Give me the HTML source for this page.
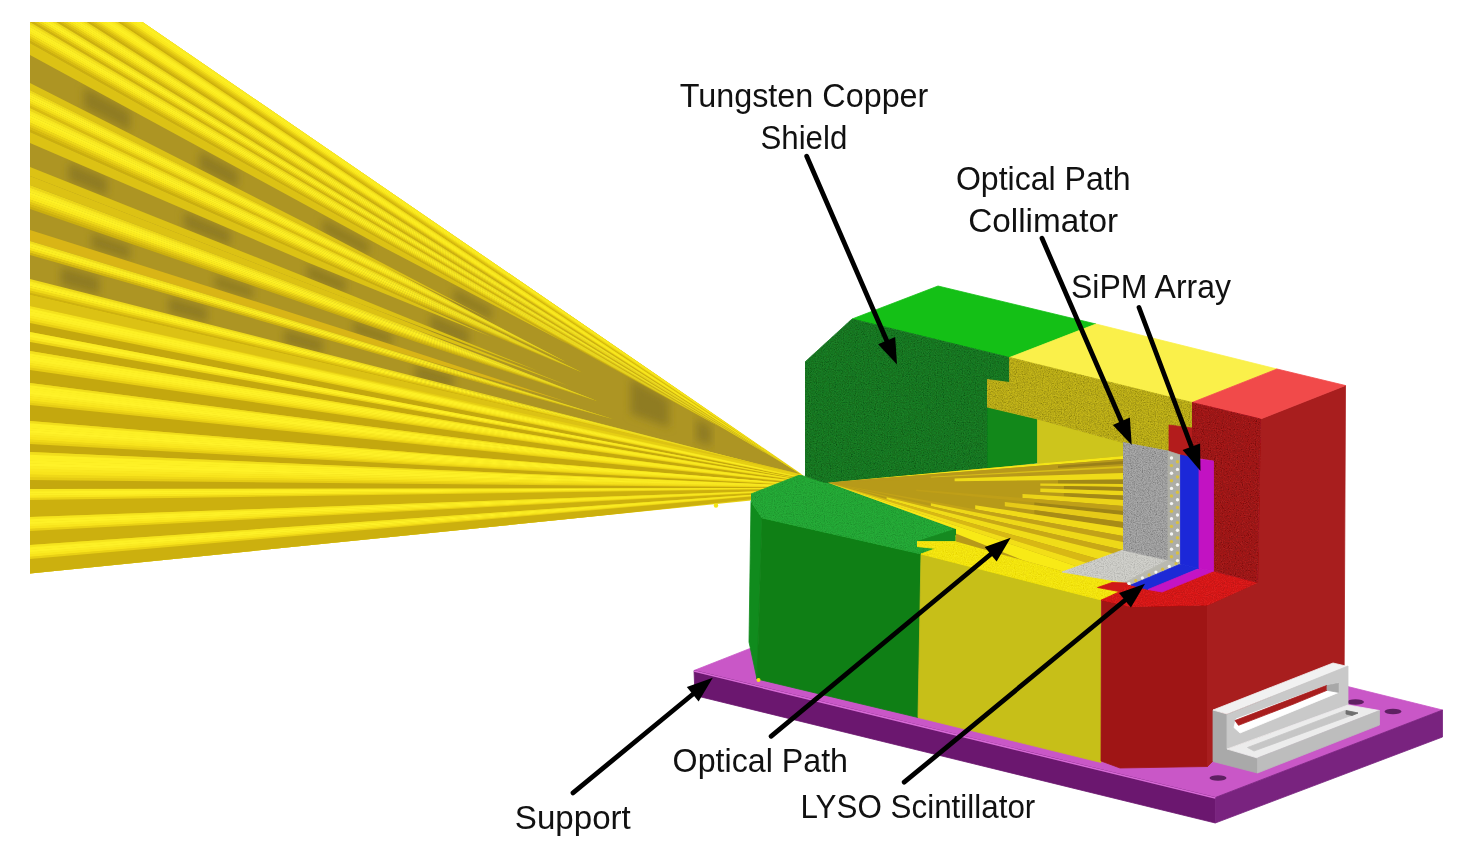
<!DOCTYPE html>
<html><head><meta charset="utf-8"><title>Detector diagram</title>
<style>
html,body{margin:0;padding:0;background:#fff;}
body{width:1464px;height:858px;overflow:hidden;}
svg{display:block;filter:blur(0.55px);}
text{font-family:"Liberation Sans",sans-serif;fill:#111;}
</style></head><body>
<svg width="1464" height="858" viewBox="0 0 1464 858">
<defs>
<clipPath id="beamclip"><polygon points="30,22 142.5,22 800,473 806,478 806,505 751,500.5 30,573.6"/></clipPath>
<clipPath id="ibclip"><polygon points="827.5,482.5 1123,456 1123,550 1065,572 956,541.5 956,529"/></clipPath>
<filter id="blur3" x="-20%" y="-20%" width="140%" height="140%"><feGaussianBlur stdDeviation="4"/></filter>
<filter id="grain" x="0" y="0" width="100%" height="100%">
<feTurbulence type="fractalNoise" baseFrequency="0.85" numOctaves="2" seed="7" result="n"/>
<feColorMatrix in="n" type="matrix" values="0 0 0 0 0  0 0 0 0 0  0 0 0 0 0  0.75 0.75 0 0 -0.6" result="a"/>
<feComposite in="a" in2="SourceGraphic" operator="in" result="g"/>
<feMerge><feMergeNode in="SourceGraphic"/><feMergeNode in="g"/></feMerge>
</filter>
<filter id="grainL" x="0" y="0" width="100%" height="100%">
<feTurbulence type="fractalNoise" baseFrequency="0.9" numOctaves="2" seed="11" result="n"/>
<feColorMatrix in="n" type="matrix" values="0 0 0 0 0  0 0 0 0 0  0 0 0 0 0  0.5 0.5 0 0 -0.43" result="a"/>
<feComposite in="a" in2="SourceGraphic" operator="in" result="g"/>
<feMerge><feMergeNode in="SourceGraphic"/><feMergeNode in="g"/></feMerge>
</filter>
<filter id="grainY" x="0" y="0" width="100%" height="100%">
<feTurbulence type="fractalNoise" baseFrequency="0.9" numOctaves="2" seed="5" result="n"/>
<feColorMatrix in="n" type="matrix" values="0 0 0 0 0.75  0 0 0 0 0.6  0 0 0 0 0  1.0 1.0 0 0 -0.8" result="a"/>
<feComposite in="a" in2="SourceGraphic" operator="in" result="g"/>
<feMerge><feMergeNode in="SourceGraphic"/><feMergeNode in="g"/></feMerge>
</filter>
</defs>
<rect width="1464" height="858" fill="#ffffff"/>
<g clip-path="url(#beamclip)">
<polygon points="0.0,-80.0 0.0,600.0 820.0,600.0 820.0,400.0" fill="#e6cf14" />
<polygon points="30.0,300.0 850.0,488.0 30.0,580.0" fill="#e6cf14" />
<polygon points="30.0,-60.0 800.0,474.0 30.0,300.0" fill="#e6cf14" />
<polygon points="30.0,-20.0 800.0,474.0 30.0,288.0" fill="#ad9523" />
<polygon points="30.0,306.0 850.0,488.0 30.0,308.8" fill="#f4e21d" />
<polygon points="30.0,308.4 850.0,488.0 30.0,311.3" fill="#fdf024" />
<polygon points="30.0,310.9 850.0,488.0 30.0,313.7" fill="#fef126" />
<polygon points="30.0,313.3 850.0,488.0 30.0,316.1" fill="#fdef26" />
<polygon points="30.0,315.7 850.0,488.0 30.0,318.5" fill="#fae920" />
<polygon points="30.0,318.1 850.0,488.0 30.0,321.0" fill="#f4df1a" />
<polygon points="30.0,320.6 850.0,488.0 30.0,323.0" fill="#e8ce14" />
<polygon points="30.0,323.0 850.0,488.0 30.0,332.0" fill="#c4a80e" />
<polygon points="30.0,332.0 850.0,488.0 30.0,334.9" fill="#faeb22" />
<polygon points="30.0,334.5 850.0,488.0 30.0,337.4" fill="#fef127" />
<polygon points="30.0,337.0 850.0,488.0 30.0,339.9" fill="#fae921" />
<polygon points="30.0,339.5 850.0,488.0 30.0,342.0" fill="#edd517" />
<polygon points="30.0,342.0 850.0,488.0 30.0,351.0" fill="#c4a80e" />
<polygon points="30.0,351.0 850.0,488.0 30.0,353.8" fill="#f3e01d" />
<polygon points="30.0,353.4 850.0,488.0 30.0,356.1" fill="#fdf024" />
<polygon points="30.0,355.8 850.0,488.0 30.0,358.5" fill="#fef126" />
<polygon points="30.0,358.1 850.0,488.0 30.0,360.9" fill="#fef127" />
<polygon points="30.0,360.5 850.0,488.0 30.0,363.3" fill="#fcec23" />
<polygon points="30.0,362.9 850.0,488.0 30.0,365.6" fill="#f9e61e" />
<polygon points="30.0,365.2 850.0,488.0 30.0,368.0" fill="#f2dc19" />
<polygon points="30.0,367.6 850.0,488.0 30.0,370.0" fill="#e7cd14" />
<polygon points="30.0,370.0 850.0,488.0 30.0,383.0" fill="#c4a80e" />
<polygon points="30.0,383.0 850.0,488.0 30.0,385.6" fill="#f1de1c" />
<polygon points="30.0,385.2 850.0,488.0 30.0,387.8" fill="#fdf024" />
<polygon points="30.0,387.4 850.0,488.0 30.0,390.0" fill="#fdf025" />
<polygon points="30.0,389.6 850.0,488.0 30.0,392.2" fill="#fef126" />
<polygon points="30.0,391.8 850.0,488.0 30.0,394.4" fill="#fff228" />
<polygon points="30.0,394.0 850.0,488.0 30.0,396.6" fill="#fced24" />
<polygon points="30.0,396.2 850.0,488.0 30.0,398.8" fill="#fae820" />
<polygon points="30.0,398.4 850.0,488.0 30.0,401.0" fill="#f8e41c" />
<polygon points="30.0,400.6 850.0,488.0 30.0,403.2" fill="#efd818" />
<polygon points="30.0,402.8 850.0,488.0 30.0,405.0" fill="#e6cc14" />
<polygon points="30.0,405.0 850.0,488.0 30.0,421.0" fill="#c4a80e" />
<polygon points="30.0,421.0 850.0,488.0 30.0,423.7" fill="#f1de1c" />
<polygon points="30.0,423.3 850.0,488.0 30.0,426.0" fill="#fdf024" />
<polygon points="30.0,425.6 850.0,488.0 30.0,428.3" fill="#fdf025" />
<polygon points="30.0,427.9 850.0,488.0 30.0,430.6" fill="#fef126" />
<polygon points="30.0,430.2 850.0,488.0 30.0,432.9" fill="#fff228" />
<polygon points="30.0,432.5 850.0,488.0 30.0,435.2" fill="#fced24" />
<polygon points="30.0,434.8 850.0,488.0 30.0,437.5" fill="#fae820" />
<polygon points="30.0,437.1 850.0,488.0 30.0,439.8" fill="#f8e41c" />
<polygon points="30.0,439.4 850.0,488.0 30.0,442.1" fill="#efd818" />
<polygon points="30.0,441.7 850.0,488.0 30.0,444.0" fill="#e6cc14" />
<polygon points="30.0,444.0 850.0,488.0 30.0,452.0" fill="#c4a80e" />
<polygon points="30.0,452.0 850.0,488.0 30.0,455.2" fill="#f1de1c" />
<polygon points="30.0,454.8 850.0,488.0 30.0,458.0" fill="#fdf024" />
<polygon points="30.0,457.6 850.0,488.0 30.0,460.8" fill="#fdf025" />
<polygon points="30.0,460.4 850.0,488.0 30.0,463.6" fill="#fef126" />
<polygon points="30.0,463.2 850.0,488.0 30.0,466.4" fill="#fff228" />
<polygon points="30.0,466.0 850.0,488.0 30.0,469.2" fill="#fced24" />
<polygon points="30.0,468.8 850.0,488.0 30.0,472.0" fill="#fae820" />
<polygon points="30.0,471.6 850.0,488.0 30.0,474.8" fill="#f8e41c" />
<polygon points="30.0,474.4 850.0,488.0 30.0,477.6" fill="#efd818" />
<polygon points="30.0,477.2 850.0,488.0 30.0,480.0" fill="#e6cc14" />
<polygon points="30.0,480.0 850.0,488.0 30.0,489.0" fill="#c4a80e" />
<polygon points="30.0,489.0 850.0,488.0 30.0,491.6" fill="#f7e720" />
<polygon points="30.0,491.2 850.0,488.0 30.0,493.8" fill="#fef126" />
<polygon points="30.0,493.4 850.0,488.0 30.0,496.0" fill="#fdef26" />
<polygon points="30.0,495.6 850.0,488.0 30.0,498.2" fill="#f9e61e" />
<polygon points="30.0,497.8 850.0,488.0 30.0,500.0" fill="#ead216" />
<polygon points="30.0,500.0 850.0,488.0 30.0,517.0" fill="#ccb00e" />
<polygon points="30.0,517.0 850.0,488.0 30.0,519.7" fill="#f5e41e" />
<polygon points="30.0,519.3 850.0,488.0 30.0,522.1" fill="#fdf025" />
<polygon points="30.0,521.7 850.0,488.0 30.0,524.4" fill="#fef127" />
<polygon points="30.0,524.0 850.0,488.0 30.0,526.7" fill="#fbeb22" />
<polygon points="30.0,526.3 850.0,488.0 30.0,529.1" fill="#f8e41c" />
<polygon points="30.0,528.7 850.0,488.0 30.0,531.0" fill="#e9d015" />
<polygon points="30.0,531.0 850.0,488.0 30.0,545.0" fill="#ccb00e" />
<polygon points="30.0,545.0 850.0,488.0 30.0,547.7" fill="#f5e41e" />
<polygon points="30.0,547.3 850.0,488.0 30.0,550.1" fill="#fdf025" />
<polygon points="30.0,549.7 850.0,488.0 30.0,552.4" fill="#fef127" />
<polygon points="30.0,552.0 850.0,488.0 30.0,554.7" fill="#fbeb22" />
<polygon points="30.0,554.3 850.0,488.0 30.0,557.1" fill="#f8e41c" />
<polygon points="30.0,556.7 850.0,488.0 30.0,559.0" fill="#e9d015" />
<polygon points="30.0,559.0 850.0,488.0 30.0,580.0" fill="#ccb00e" />
<polygon points="83.9,87.1 130.1,112.1 130.1,131.2 83.9,107.6" fill="#8f7c20" filter="url(#blur3)"/>
<polygon points="199.4,151.1 237.9,171.8 237.9,187.8 199.4,168.2" fill="#8f7c20" filter="url(#blur3)"/>
<polygon points="322.6,218.6 368.8,243.3 368.8,255.6 322.6,232.2" fill="#8f7c20" filter="url(#blur3)"/>
<polygon points="453.5,287.7 492.0,308.4 492.0,320.4 453.5,301.2" fill="#8f7c20" filter="url(#blur3)"/>
<polygon points="68.5,162.4 107.0,178.8 107.0,195.9 68.5,180.4" fill="#8f7c20" filter="url(#blur3)"/>
<polygon points="184.0,211.6 230.2,231.3 230.2,246.1 184.0,227.6" fill="#8f7c20" filter="url(#blur3)"/>
<polygon points="307.2,264.1 345.7,280.5 345.7,293.5 307.2,278.2" fill="#8f7c20" filter="url(#blur3)"/>
<polygon points="430.4,313.7 468.9,330.4 468.9,345.4 430.4,330.5" fill="#8f7c20" filter="url(#blur3)"/>
<polygon points="91.6,233.0 130.1,246.1 130.1,260.0 91.6,247.7" fill="#8f7c20" filter="url(#blur3)"/>
<polygon points="214.8,274.9 253.3,288.0 253.3,299.3 214.8,287.0" fill="#8f7c20" filter="url(#blur3)"/>
<polygon points="353.4,320.9 391.9,334.1 391.9,345.7 353.4,333.6" fill="#8f7c20" filter="url(#blur3)"/>
<polygon points="60.8,266.6 99.3,277.4 99.3,294.7 60.8,284.9" fill="#8f7c20" filter="url(#blur3)"/>
<polygon points="168.6,296.9 207.1,307.7 207.1,322.3 168.6,312.5" fill="#8f7c20" filter="url(#blur3)"/>
<polygon points="284.1,329.3 322.6,340.1 322.6,353.7 284.1,344.0" fill="#8f7c20" filter="url(#blur3)"/>
<polygon points="415.0,364.5 453.5,375.4 453.5,388.9 415.0,379.5" fill="#8f7c20" filter="url(#blur3)"/>
<polygon points="630.6,378.5 669.1,400.2 669.1,427.4 630.6,413.7" fill="#8f7c20" filter="url(#blur3)"/>
<polygon points="696.0,418.1 711.5,426.4 711.5,445.9 696.0,441.1" fill="#8f7c20" filter="url(#blur3)"/>
<polygon points="30.0,-60.0 800.0,474.0 30.0,-57.2" fill="#ebd619" />
<polygon points="30.0,-57.6 800.0,474.0 30.0,-54.8" fill="#f7e61f" />
<polygon points="30.0,-55.2 800.0,474.0 30.0,-52.4" fill="#fbed23" />
<polygon points="30.0,-52.8 800.0,474.0 30.0,-50.0" fill="#fef124" />
<polygon points="30.0,-50.4 800.0,474.0 30.0,-47.6" fill="#fcec20" />
<polygon points="30.0,-48.0 800.0,474.0 30.0,-45.2" fill="#fae81c" />
<polygon points="30.0,-45.6 800.0,474.0 30.0,-42.8" fill="#eed817" />
<polygon points="30.0,-43.2 800.0,474.0 30.0,-40.4" fill="#e3c813" />
<polygon points="30.0,-40.8 800.0,474.0 30.0,-38.0" fill="#d7bb10" />
<polygon points="30.0,-38.4 800.0,474.0 30.0,-36.0" fill="#cbaf0e" />
<polygon points="30.0,-36.0 800.0,474.0 30.0,-33.4" fill="#ebd619" />
<polygon points="30.0,-33.8 800.0,474.0 30.0,-31.2" fill="#f7e61f" />
<polygon points="30.0,-31.6 800.0,474.0 30.0,-29.0" fill="#fbed23" />
<polygon points="30.0,-29.4 800.0,474.0 30.0,-26.8" fill="#fef124" />
<polygon points="30.0,-27.2 800.0,474.0 30.0,-24.6" fill="#fcec20" />
<polygon points="30.0,-25.0 800.0,474.0 30.0,-22.4" fill="#fae81c" />
<polygon points="30.0,-22.8 800.0,474.0 30.0,-20.2" fill="#eed817" />
<polygon points="30.0,-20.6 800.0,474.0 30.0,-18.0" fill="#e3c813" />
<polygon points="30.0,-18.4 800.0,474.0 30.0,-15.8" fill="#d7bb10" />
<polygon points="30.0,-16.2 800.0,474.0 30.0,-14.0" fill="#cbaf0e" />
<polygon points="30.0,-14.0 607.5,352.0 792.3,469.1 607.5,352.7 30.0,-11.4" fill="#ecd719" />
<polygon points="30.0,-11.8 607.5,352.6 792.3,469.1 607.5,353.2 30.0,-9.2" fill="#f8e71f" />
<polygon points="30.0,-9.6 607.5,353.1 792.3,469.1 607.5,353.8 30.0,-6.9" fill="#fdef24" />
<polygon points="30.0,-7.3 607.5,353.7 792.3,469.1 607.5,354.3 30.0,-4.7" fill="#fdef23" />
<polygon points="30.0,-5.1 607.5,354.2 792.3,469.1 607.5,354.9 30.0,-2.5" fill="#fbea1e" />
<polygon points="30.0,-2.9 607.5,354.8 792.3,469.1 607.5,355.4 30.0,-0.3" fill="#f3de19" />
<polygon points="30.0,-0.7 607.5,355.3 792.3,469.1 607.5,356.0 30.0,2.0" fill="#e6cd14" />
<polygon points="30.0,1.6 607.5,355.9 792.3,469.1 607.5,356.5 30.0,4.2" fill="#d9bd11" />
<polygon points="30.0,3.8 607.5,356.4 792.3,469.1 607.5,357.0 30.0,6.0" fill="#ccb00f" />
<polygon points="30.0,6.0 584.4,343.0 769.2,455.3 584.4,343.7 30.0,8.7" fill="#eeda1a" />
<polygon points="30.0,8.3 584.4,343.6 769.2,455.3 584.4,344.4 30.0,11.0" fill="#faeb21" />
<polygon points="30.0,10.6 584.4,344.2 769.2,455.3 584.4,345.0 30.0,13.3" fill="#fef124" />
<polygon points="30.0,12.9 584.4,344.9 769.2,455.3 584.4,345.6 30.0,15.5" fill="#fbea1e" />
<polygon points="30.0,15.1 584.4,345.5 769.2,455.3 584.4,346.3 30.0,17.8" fill="#efd917" />
<polygon points="30.0,17.4 584.4,346.2 769.2,455.3 584.4,346.9 30.0,20.1" fill="#dfc311" />
<polygon points="30.0,19.7 584.4,346.8 769.2,455.3 584.4,347.4 30.0,22.0" fill="#ceb20f" />
<polygon points="30.0,22.0 538.2,320.3 723.0,428.8 538.2,321.2 30.0,24.7" fill="#ecd719" />
<polygon points="30.0,24.3 538.2,321.1 723.0,428.8 538.2,322.0 30.0,27.1" fill="#f8e71f" />
<polygon points="30.0,26.7 538.2,321.9 723.0,428.8 538.2,322.8 30.0,29.4" fill="#fdef24" />
<polygon points="30.0,29.0 538.2,322.7 723.0,428.8 538.2,323.6 30.0,31.7" fill="#fdef23" />
<polygon points="30.0,31.3 538.2,323.5 723.0,428.8 538.2,324.4 30.0,34.1" fill="#fbea1e" />
<polygon points="30.0,33.7 538.2,324.3 723.0,428.8 538.2,325.2 30.0,36.4" fill="#f3de19" />
<polygon points="30.0,36.0 538.2,325.1 723.0,428.8 538.2,326.0 30.0,38.7" fill="#e6cd14" />
<polygon points="30.0,38.3 538.2,325.9 723.0,428.8 538.2,326.8 30.0,41.1" fill="#d9bd11" />
<polygon points="30.0,40.7 538.2,326.7 723.0,428.8 538.2,327.5 30.0,43.0" fill="#ccb00f" />
<polygon points="30.0,43.0 384.2,241.3 569.0,344.7 384.2,247.7 30.0,55.0" fill="#dcc214" />
<polygon points="30.0,83.0 307.2,223.8 492.0,320.4 307.2,228.2 30.0,90.0" fill="#dcc214" />
<polygon points="30.0,90.0 384.2,266.6 569.0,363.6 384.2,268.1 30.0,92.6" fill="#ecd719" />
<polygon points="30.0,92.2 384.2,267.8 569.0,363.6 384.2,269.3 30.0,94.8" fill="#f8e71f" />
<polygon points="30.0,94.4 384.2,269.0 569.0,363.6 384.2,270.5 30.0,97.1" fill="#fdef24" />
<polygon points="30.0,96.7 384.2,270.2 569.0,363.6 384.2,271.7 30.0,99.3" fill="#fdef23" />
<polygon points="30.0,98.9 384.2,271.4 569.0,363.6 384.2,272.9 30.0,101.5" fill="#fbea1e" />
<polygon points="30.0,101.1 384.2,272.6 569.0,363.6 384.2,274.1 30.0,103.7" fill="#f3de19" />
<polygon points="30.0,103.3 384.2,273.8 569.0,363.6 384.2,275.3 30.0,106.0" fill="#e6cd14" />
<polygon points="30.0,105.6 384.2,275.0 569.0,363.6 384.2,276.5 30.0,108.2" fill="#d9bd11" />
<polygon points="30.0,107.8 384.2,276.2 569.0,363.6 384.2,277.4 30.0,110.0" fill="#ccb00f" />
<polygon points="30.0,108.0 399.6,283.7 584.4,373.5 399.6,285.1 30.0,110.8" fill="#ebd619" />
<polygon points="30.0,110.4 399.6,284.9 584.4,373.5 399.6,286.4 30.0,113.2" fill="#f7e61f" />
<polygon points="30.0,112.8 399.6,286.2 584.4,373.5 399.6,287.6 30.0,115.6" fill="#fbed23" />
<polygon points="30.0,115.2 399.6,287.4 584.4,373.5 399.6,288.9 30.0,118.0" fill="#fef124" />
<polygon points="30.0,117.6 399.6,288.7 584.4,373.5 399.6,290.1 30.0,120.4" fill="#fcec20" />
<polygon points="30.0,120.0 399.6,289.9 584.4,373.5 399.6,291.4 30.0,122.8" fill="#fae81c" />
<polygon points="30.0,122.4 399.6,291.2 584.4,373.5 399.6,292.6 30.0,125.2" fill="#eed817" />
<polygon points="30.0,124.8 399.6,292.4 584.4,373.5 399.6,293.9 30.0,127.6" fill="#e3c813" />
<polygon points="30.0,127.2 399.6,293.7 584.4,373.5 399.6,295.1 30.0,130.0" fill="#d7bb10" />
<polygon points="30.0,129.6 399.6,294.9 584.4,373.5 399.6,296.2 30.0,132.0" fill="#cbaf0e" />
<polygon points="30.0,132.0 307.2,255.1 492.0,337.2 307.2,262.2 30.0,143.0" fill="#dcc214" />
<polygon points="30.0,167.0 353.4,295.9 538.2,371.1 353.4,301.2 30.0,176.0" fill="#dcc214" />
<polygon points="30.0,176.0 384.2,313.1 569.0,385.9 384.2,317.9 30.0,185.0" fill="#dcc214" />
<polygon points="30.0,185.0 415.0,329.5 599.8,402.0 415.0,330.9 30.0,187.8" fill="#ebd619" />
<polygon points="30.0,187.4 415.0,330.7 599.8,402.0 415.0,332.1 30.0,190.2" fill="#f7e61f" />
<polygon points="30.0,189.8 415.0,331.9 599.8,402.0 415.0,333.3 30.0,192.6" fill="#fbed23" />
<polygon points="30.0,192.2 415.0,333.1 599.8,402.0 415.0,334.5 30.0,195.0" fill="#fef124" />
<polygon points="30.0,194.6 415.0,334.3 599.8,402.0 415.0,335.7 30.0,197.4" fill="#fcec20" />
<polygon points="30.0,197.0 415.0,335.5 599.8,402.0 415.0,336.9 30.0,199.8" fill="#fae81c" />
<polygon points="30.0,199.4 415.0,336.7 599.8,402.0 415.0,338.1 30.0,202.2" fill="#eed817" />
<polygon points="30.0,201.8 415.0,337.9 599.8,402.0 415.0,339.3 30.0,204.6" fill="#e3c813" />
<polygon points="30.0,204.2 415.0,339.1 599.8,402.0 415.0,340.5 30.0,207.0" fill="#d7bb10" />
<polygon points="30.0,206.6 415.0,340.3 599.8,402.0 415.0,341.5 30.0,209.0" fill="#cbaf0e" />
<polygon points="30.0,230.0 384.2,342.2 569.0,402.4 384.2,348.2 30.0,241.0" fill="#d9b516" />
<polygon points="30.0,241.0 430.4,362.2 615.2,419.8 430.4,363.5 30.0,243.7" fill="#f0dc1b" />
<polygon points="30.0,243.3 430.4,363.3 615.2,419.8 430.4,364.6 30.0,246.1" fill="#fbed23" />
<polygon points="30.0,245.7 430.4,364.4 615.2,419.8 430.4,365.7 30.0,248.4" fill="#fcee21" />
<polygon points="30.0,248.0 430.4,365.5 615.2,419.8 430.4,366.8 30.0,250.7" fill="#f6e21a" />
<polygon points="30.0,250.3 430.4,366.6 615.2,419.8 430.4,368.0 30.0,253.1" fill="#e3c813" />
<polygon points="30.0,252.7 430.4,367.8 615.2,419.8 430.4,368.9 30.0,255.0" fill="#cfb30f" />
<polygon points="30.0,279.0 576.7,417.4 761.5,465.0 576.7,418.2 30.0,281.7" fill="#eeda1a" />
<polygon points="30.0,281.3 576.7,418.1 761.5,465.0 576.7,418.9 30.0,284.0" fill="#faeb21" />
<polygon points="30.0,283.6 576.7,418.8 761.5,465.0 576.7,419.6 30.0,286.3" fill="#fef124" />
<polygon points="30.0,285.9 576.7,419.4 761.5,465.0 576.7,420.2 30.0,288.5" fill="#fbea1e" />
<polygon points="30.0,288.1 576.7,420.1 761.5,465.0 576.7,420.9 30.0,290.8" fill="#efd917" />
<polygon points="30.0,290.4 576.7,420.8 761.5,465.0 576.7,421.5 30.0,293.1" fill="#dfc311" />
<polygon points="30.0,292.7 576.7,421.4 761.5,465.0 576.7,422.1 30.0,295.0" fill="#ceb20f" />
<polygon points="30.0,295.0 800.0,474.0 30.0,306.0" fill="#dcc214" />
</g>
<polygon points="694.0,670.5 921.5,581.0 1442.5,710.0 1215.3,797.5" fill="#c957c7"  stroke="#c957c7" stroke-width="0.8" stroke-linejoin="round"/>
<polygon points="694.0,670.5 1215.3,797.5 1215.3,823.0 695.0,695.5" fill="#6b176f"  stroke="#6b176f" stroke-width="0.8" stroke-linejoin="round"/>
<polygon points="1215.3,797.5 1442.5,710.0 1442.5,737.0 1215.3,823.0" fill="#79237f"  stroke="#79237f" stroke-width="0.8" stroke-linejoin="round"/>
<line x1="694" y1="671" x2="1215.3" y2="798" stroke="#d86ad6" stroke-width="1.6"/>
<ellipse cx="1218.0" cy="778.0" rx="8.5" ry="2.8" fill="#5e2062"/>
<ellipse cx="1393.0" cy="711.5" rx="8.5" ry="2.8" fill="#5e2062"/>
<ellipse cx="1355.5" cy="702.0" rx="8.5" ry="2.8" fill="#5e2062"/>
<polygon points="751.0,501.5 762.0,518.0 757.0,679.0 749.0,642.0" fill="#108b1d"  stroke="#108b1d" stroke-width="0.8" stroke-linejoin="round"/>
<polygon points="762.0,518.0 921.0,554.0 918.0,717.5 757.0,679.0" fill="#0f7f15"  stroke="#0f7f15" stroke-width="0.8" stroke-linejoin="round"/>
<polygon points="751.0,494.0 799.5,475.0 827.5,482.5 956.0,529.0 956.0,541.5 917.0,541.5 917.0,546.5 936.0,548.5 921.0,554.0 762.0,518.0 751.0,501.5" fill="#27ab37" filter="url(#grainL)" stroke="#27ab37" stroke-width="0.8" stroke-linejoin="round"/>
<polygon points="917.0,541.5 956.0,529.0 956.0,541.5" fill="#158a20"  stroke="#158a20" stroke-width="0.8" stroke-linejoin="round"/>
<polygon points="921.0,554.0 1101.0,600.0 1101.0,762.5 918.0,717.5" fill="#c7bf18"  stroke="#c7bf18" stroke-width="0.8" stroke-linejoin="round"/>
<polygon points="917.0,541.5 956.0,541.5 956.0,535.0 1122.5,552.0 1125.0,582.5 1120.0,591.5 1101.5,600.0 921.0,554.0 936.0,548.5 917.0,546.5" fill="#f6e914" filter="url(#grainY)" stroke="#f6e914" stroke-width="0.8" stroke-linejoin="round"/>
<polygon points="1101.5,600.0 1131.0,606.5 1207.5,605.0 1207.5,766.5 1120.0,768.0 1101.0,761.0" fill="#9f1515"  stroke="#9f1515" stroke-width="0.8" stroke-linejoin="round"/>
<polygon points="1207.5,605.0 1257.5,582.5 1260.5,419.0 1345.5,385.5 1344.0,700.0 1213.0,761.0 1207.5,766.5" fill="#a81e1e"  stroke="#a81e1e" stroke-width="0.8" stroke-linejoin="round"/>
<polygon points="1101.5,600.0 1120.0,591.5 1126.0,583.5 1212.5,571.0 1257.5,582.5 1207.5,605.0 1131.0,606.5" fill="#dc1c1c" filter="url(#grainL)" stroke="#dc1c1c" stroke-width="0.8" stroke-linejoin="round"/>
<polygon points="852.0,319.0 938.0,286.0 1096.0,324.0 1009.5,357.5" fill="#14c016"  stroke="#14c016" stroke-width="0.8" stroke-linejoin="round"/>
<polygon points="987.0,407.0 1037.5,419.0 1037.5,463.0 987.0,469.0" fill="#12881a"  stroke="#12881a" stroke-width="0.8" stroke-linejoin="round"/>
<polygon points="805.0,362.0 852.0,319.0 1009.5,357.5 1009.5,382.5 987.0,379.5 987.0,470.0 826.0,483.0 805.0,476.0" fill="#1e7f28" filter="url(#grain)" stroke="#1e7f28" stroke-width="0.8" stroke-linejoin="round"/>
<polygon points="1009.5,357.5 1096.0,324.0 1277.0,369.0 1192.0,402.5" fill="#faf04a"  stroke="#faf04a" stroke-width="0.8" stroke-linejoin="round"/>
<polygon points="1037.5,419.0 1123.0,442.5 1123.0,457.0 1037.5,463.5" fill="#cdc51c"  stroke="#cdc51c" stroke-width="0.8" stroke-linejoin="round"/>
<polygon points="1009.5,357.5 1192.0,402.5 1192.0,428.0 1169.0,425.0 1169.0,451.0 1123.0,442.5 1037.5,419.0 987.0,407.0 987.0,379.5 1009.5,382.5" fill="#c4b61e" filter="url(#grain)" stroke="#c4b61e" stroke-width="0.8" stroke-linejoin="round"/>
<polygon points="1192.0,402.5 1277.0,369.0 1345.5,385.5 1260.5,419.0" fill="#f14a4a"  stroke="#f14a4a" stroke-width="0.8" stroke-linejoin="round"/>
<polygon points="1169.0,425.0 1192.0,428.0 1192.0,460.0 1169.0,454.0" fill="#b31c1c"  stroke="#b31c1c" stroke-width="0.8" stroke-linejoin="round"/>
<polygon points="1192.0,402.5 1260.5,419.0 1257.5,582.5 1213.5,571.0 1213.5,461.0 1192.0,457.0" fill="#a91c1f" filter="url(#grain)" stroke="#a91c1f" stroke-width="0.8" stroke-linejoin="round"/>
<g clip-path="url(#ibclip)">
<polygon points="827.5,482.5 1123.0,452.0 1123.0,600.0 900.0,600.0" fill="#b79a19" />
<polygon points="827.5,482.5 1123.0,455.0 1123.0,459.0" fill="#f4e616" />
<polygon points="827.5,482.5 1123.0,459.0 1123.0,472.0" fill="#b8991b" />
<polygon points="1058.0,465.7 1123.0,461.0 1123.0,464.0 1058.0,468.1" fill="#9a8018" />
<polygon points="930.9,476.7 1123.0,466.0 1123.0,468.0 930.9,477.4" fill="#d8be18" />
<polygon points="954.6,478.4 1123.0,473.0 1123.0,479.5 954.6,481.2" fill="#efdb18" />
<polygon points="1058.0,480.2 1123.0,479.5 1123.0,484.0 1058.0,483.7" fill="#a08818" />
<polygon points="1040.3,483.6 1123.0,484.0 1123.0,487.0 1040.3,485.7" fill="#ead218" />
<polygon points="1063.9,486.1 1123.0,487.0 1123.0,491.0 1063.9,489.3" fill="#9e8416" />
<polygon points="1040.3,488.6 1123.0,491.0 1123.0,495.5 1040.3,491.9" fill="#ecd618" />
<polygon points="1063.9,492.9 1123.0,495.5 1123.0,500.0 1063.9,496.5" fill="#a48a16" />
<polygon points="1022.5,494.1 1123.0,500.0 1123.0,506.0 1022.5,498.0" fill="#ecd418" />
<polygon points="916.1,489.6 1123.0,506.0 1123.0,511.0 916.1,491.1" fill="#bf9f18" />
<polygon points="1034.3,502.4 1123.0,511.0 1123.0,515.0 1034.3,505.2" fill="#9e8416" />
<polygon points="1004.8,502.0 1123.0,515.0 1123.0,522.0 1004.8,506.2" fill="#e6ca18" />
<polygon points="1034.3,510.1 1123.0,522.0 1123.0,528.0 1034.3,514.4" fill="#a88c16" />
<polygon points="975.2,505.2 1123.0,528.0 1123.0,536.0 975.2,509.2" fill="#f0da18" />
<polygon points="827.5,482.5 1123.0,536.0 1123.0,542.0" fill="#c2a218" />
<polygon points="930.9,503.3 1123.0,542.0 1123.0,550.0 930.9,506.1" fill="#eed818" />
<polygon points="827.5,482.5 1123.0,550.0 1123.0,556.0" fill="#c8a816" />
<polygon points="886.6,497.2 1123.0,556.0 1123.0,566.0 886.6,499.2" fill="#f0dc18" />
<polygon points="827.5,482.5 1123.0,566.0 1123.0,574.0" fill="#d8b814" />
<polygon points="827.5,482.5 1123.0,574.0 1123.0,582.0" fill="#f2de18" />
<polygon points="827.5,482.5 1123.0,582.0 1123.0,600.0" fill="#f8ea16" />
</g>
<polygon points="1123.0,550.0 1168.0,560.0 1125.0,582.5 1062.0,572.0" fill="#d0d0cb" filter="url(#grainL)" stroke="#d0d0cb" stroke-width="0.8" stroke-linejoin="round"/>
<polygon points="1168.0,560.0 1180.5,564.0 1131.0,585.0 1125.0,582.5" fill="#b9b9b0"  stroke="#b9b9b0" stroke-width="0.8" stroke-linejoin="round"/>
<polygon points="1180.5,564.0 1199.0,568.5 1148.0,589.5 1131.0,585.0" fill="#1d2ad6"  stroke="#1d2ad6" stroke-width="0.8" stroke-linejoin="round"/>
<polygon points="1199.0,568.5 1213.5,571.0 1162.0,592.0 1148.0,589.5" fill="#c414c4"  stroke="#c414c4" stroke-width="0.8" stroke-linejoin="round"/>
<polygon points="1097.5,587.5 1112.0,582.5 1127.0,583.0 1120.5,591.8" fill="#cf1818"  stroke="#cf1818" stroke-width="0.8" stroke-linejoin="round"/>
<polygon points="1123.0,442.5 1168.0,451.0 1168.0,560.0 1123.0,550.0" fill="#a9a9a9" filter="url(#grain)" stroke="#a9a9a9" stroke-width="0.8" stroke-linejoin="round"/>
<polygon points="1168.0,451.0 1180.5,455.0 1180.5,564.0 1168.0,560.0" fill="#aeaea6"  stroke="#aeaea6" stroke-width="0.8" stroke-linejoin="round"/>
<polygon points="1180.5,455.0 1199.0,459.0 1199.0,568.5 1180.5,564.0" fill="#1c28d8"  stroke="#1c28d8" stroke-width="0.8" stroke-linejoin="round"/>
<polygon points="1199.0,459.0 1213.5,461.0 1213.5,571.0 1199.0,568.5" fill="#c212c2"  stroke="#c212c2" stroke-width="0.8" stroke-linejoin="round"/>
<circle cx="1171.5" cy="458.0" r="1.7" fill="#f4f4f4"/>
<circle cx="1177.5" cy="461.8" r="1.7" fill="#d8c040"/>
<circle cx="1171.5" cy="465.6" r="1.7" fill="#d8c040"/>
<circle cx="1177.5" cy="469.4" r="1.7" fill="#f4f4f4"/>
<circle cx="1171.5" cy="473.2" r="1.7" fill="#f4f4f4"/>
<circle cx="1177.5" cy="477.0" r="1.7" fill="#d8c040"/>
<circle cx="1171.5" cy="480.8" r="1.7" fill="#d8c040"/>
<circle cx="1177.5" cy="484.6" r="1.7" fill="#f4f4f4"/>
<circle cx="1171.5" cy="488.4" r="1.7" fill="#f4f4f4"/>
<circle cx="1177.5" cy="492.2" r="1.7" fill="#d8c040"/>
<circle cx="1171.5" cy="496.0" r="1.7" fill="#d8c040"/>
<circle cx="1177.5" cy="499.8" r="1.7" fill="#f4f4f4"/>
<circle cx="1171.5" cy="503.6" r="1.7" fill="#f4f4f4"/>
<circle cx="1177.5" cy="507.4" r="1.7" fill="#d8c040"/>
<circle cx="1171.5" cy="511.2" r="1.7" fill="#d8c040"/>
<circle cx="1177.5" cy="515.0" r="1.7" fill="#f4f4f4"/>
<circle cx="1171.5" cy="518.8" r="1.7" fill="#f4f4f4"/>
<circle cx="1177.5" cy="522.6" r="1.7" fill="#d8c040"/>
<circle cx="1171.5" cy="526.4" r="1.7" fill="#d8c040"/>
<circle cx="1177.5" cy="530.2" r="1.7" fill="#f4f4f4"/>
<circle cx="1171.5" cy="534.0" r="1.7" fill="#f4f4f4"/>
<circle cx="1177.5" cy="537.8" r="1.7" fill="#d8c040"/>
<circle cx="1171.5" cy="541.6" r="1.7" fill="#d8c040"/>
<circle cx="1177.5" cy="545.4" r="1.7" fill="#f4f4f4"/>
<circle cx="1171.5" cy="549.2" r="1.7" fill="#f4f4f4"/>
<circle cx="1177.5" cy="553.0" r="1.7" fill="#d8c040"/>
<circle cx="1171.5" cy="556.8" r="1.7" fill="#d8c040"/>
<circle cx="1177.5" cy="560.6" r="1.7" fill="#f4f4f4"/>
<circle cx="1176.0" cy="563.5" r="1.6" fill="#d8c040"/>
<circle cx="1169.3" cy="566.4" r="1.6" fill="#f4f4f4"/>
<circle cx="1162.6" cy="569.2" r="1.6" fill="#d8c040"/>
<circle cx="1155.9" cy="572.1" r="1.6" fill="#f4f4f4"/>
<circle cx="1149.1" cy="574.9" r="1.6" fill="#d8c040"/>
<circle cx="1142.4" cy="577.8" r="1.6" fill="#f4f4f4"/>
<circle cx="1135.7" cy="580.6" r="1.6" fill="#d8c040"/>
<circle cx="1129.0" cy="583.5" r="1.6" fill="#f4f4f4"/>
<polygon points="1213.0,710.0 1227.0,714.5 1227.0,749.0 1257.5,758.0 1257.5,773.0 1213.0,761.5" fill="#a9a9a9"  stroke="#a9a9a9" stroke-width="0.8" stroke-linejoin="round"/>
<polygon points="1213.0,710.0 1333.0,663.0 1348.0,666.5 1227.0,714.0" fill="#f1f1f1"  stroke="#f1f1f1" stroke-width="0.8" stroke-linejoin="round"/>
<polygon points="1227.0,714.5 1348.0,666.0 1348.0,705.0 1227.0,749.0" fill="#c9c9c9"  stroke="#c9c9c9" stroke-width="0.8" stroke-linejoin="round"/>
<polygon points="1227.0,749.0 1348.0,705.0 1379.5,710.5 1257.5,758.0" fill="#ececec"  stroke="#ececec" stroke-width="0.8" stroke-linejoin="round"/>
<polygon points="1257.5,758.0 1379.5,710.5 1379.5,725.0 1257.5,773.0" fill="#bdbdbd"  stroke="#bdbdbd" stroke-width="0.8" stroke-linejoin="round"/>
<polygon points="1236.0,719.0 1327.0,685.3 1338.7,683.0 1338.7,692.4 1240.0,733.0 1234.0,727.5" fill="#ffffff"  stroke="#ffffff" stroke-width="0.8" stroke-linejoin="round"/>
<polygon points="1235.0,720.5 1327.0,685.3 1327.0,690.3 1293.0,704.3 1238.5,725.3" fill="#a81e1e"  stroke="#a81e1e" stroke-width="0.8" stroke-linejoin="round"/>
<polygon points="1327.0,685.3 1338.7,683.0 1338.7,692.4 1327.0,690.3" fill="#a8a8a8"  stroke="#a8a8a8" stroke-width="0.8" stroke-linejoin="round"/>
<polygon points="1247.5,747.5 1345.0,710.5 1358.0,713.0 1254.0,751.0" fill="#c6c6c6"  stroke="#c6c6c6" stroke-width="0.8" stroke-linejoin="round"/>
<polygon points="1346.0,710.5 1358.0,713.0 1352.0,715.5 1346.0,714.0" fill="#6f6f6f"  stroke="#6f6f6f" stroke-width="0.8" stroke-linejoin="round"/>
<circle cx="716" cy="505.5" r="2.2" fill="#f2e614"/>
<circle cx="758.5" cy="680" r="2" fill="#f2e614"/>
<line x1="806.7" y1="156.3" x2="887.5" y2="342.5" stroke="#000" stroke-width="4.8" stroke-linecap="round"/>
<polygon points="897.0,364.5 878.1,344.3 895.2,336.9" fill="#000" />
<line x1="1042.0" y1="238.3" x2="1122.1" y2="423.0" stroke="#000" stroke-width="4.8" stroke-linecap="round"/>
<polygon points="1131.7,445.0 1112.8,424.9 1129.9,417.4" fill="#000" />
<line x1="1139.0" y1="307.5" x2="1192.1" y2="448.5" stroke="#000" stroke-width="4.8" stroke-linecap="round"/>
<polygon points="1200.5,471.0 1182.6,449.9 1200.1,443.4" fill="#000" />
<line x1="771.0" y1="736.3" x2="992.2" y2="553.0" stroke="#000" stroke-width="4.8" stroke-linecap="round"/>
<polygon points="1010.7,537.7 996.6,561.4 984.7,547.1" fill="#000" />
<line x1="904.2" y1="782.2" x2="1126.5" y2="599.0" stroke="#000" stroke-width="4.8" stroke-linecap="round"/>
<polygon points="1145.0,583.7 1130.9,607.4 1119.0,593.1" fill="#000" />
<line x1="573.0" y1="792.9" x2="694.3" y2="693.0" stroke="#000" stroke-width="4.8" stroke-linecap="round"/>
<polygon points="712.8,677.7 698.6,701.4 686.8,687.1" fill="#000" />
<text x="679.7" y="107.0" font-size="32.5" textLength="248.7" lengthAdjust="spacingAndGlyphs">Tungsten Copper</text>
<text x="760.4" y="149.3" font-size="32.5" textLength="86.9" lengthAdjust="spacingAndGlyphs">Shield</text>
<text x="955.9" y="190.3" font-size="32.5" textLength="174.6" lengthAdjust="spacingAndGlyphs">Optical Path</text>
<text x="968.2" y="232.1" font-size="32.5" textLength="150.0" lengthAdjust="spacingAndGlyphs">Collimator</text>
<text x="1071.0" y="297.7" font-size="32.5" textLength="160.0" lengthAdjust="spacingAndGlyphs">SiPM Array</text>
<text x="672.6" y="772.0" font-size="32.5" textLength="175.4" lengthAdjust="spacingAndGlyphs">Optical Path</text>
<text x="514.8" y="828.5" font-size="32.5" textLength="116.0" lengthAdjust="spacingAndGlyphs">Support</text>
<text x="800.5" y="818.3" font-size="32.5" textLength="234.8" lengthAdjust="spacingAndGlyphs">LYSO Scintillator</text>
</svg>
</body></html>
